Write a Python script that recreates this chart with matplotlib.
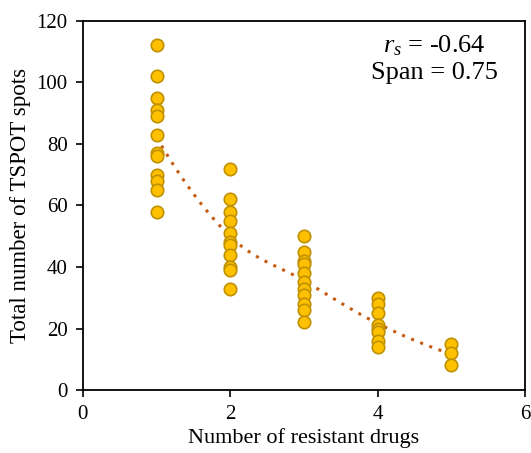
import numpy as np
import matplotlib.pyplot as plt

plt.rcParams['font.family'] = ['Liberation Serif', 'DejaVu Serif']
plt.rcParams['mathtext.fontset'] = 'custom'
plt.rcParams['mathtext.rm'] = 'Liberation Serif'
plt.rcParams['mathtext.it'] = 'Liberation Serif:italic'

# spots per patient, grouped by number of resistant drugs
drugs_1 = [112, 102, 95, 91, 89, 83, 77, 76, 70, 68, 65, 58]
drugs_2 = [72, 62, 58, 55, 51, 48, 47, 44, 40, 39, 33]
drugs_3 = [50, 45, 42, 41, 38, 35, 33, 31, 28, 26, 22]
drugs_4 = [30, 28, 25, 21, 20, 19, 16, 14]
drugs_5 = [15, 12, 8]
groups = [drugs_1, drugs_2, drugs_3, drugs_4, drugs_5]
span = 0.75
rs_text = "$r_s$ = -0.64"

x = np.concatenate([np.full(len(g), i + 1.0) for i, g in enumerate(groups)])
y = np.concatenate([np.array(g, dtype=float) for g in groups])


def loess_fit(x, y, x0, frac):
    # local quadratic fit with tricube weights -> value and slope at x0
    n = len(x)
    q = int(np.floor(frac * n))
    d = np.abs(x - x0)
    dmax = np.sort(d)[q - 1] * 1.0001
    w = np.clip(1 - (d / dmax) ** 3, 0, None) ** 3
    X = np.column_stack([np.ones(n), x - x0, (x - x0) ** 2])
    W = np.sqrt(w)
    beta = np.linalg.lstsq(X * W[:, None], y * W, rcond=None)[0]
    return beta[0], beta[1]


# fit at the vertices (distinct x) then blend with cubic Hermite, like loess "interpolate"
verts = np.unique(x)
fits = [loess_fit(x, y, v, span) for v in verts]
xs, ys = [], []
for i in range(len(verts) - 1):
    x0, x1 = verts[i], verts[i + 1]
    (f0, d0), (f1, d1) = fits[i], fits[i + 1]
    h = x1 - x0
    t = np.linspace(0, 1, 30, endpoint=(i == len(verts) - 2))
    h00 = 2 * t**3 - 3 * t**2 + 1
    h10 = t**3 - 2 * t**2 + t
    h01 = -2 * t**3 + 3 * t**2
    h11 = t**3 - t**2
    xs.append(x0 + t * h)
    ys.append(h00 * f0 + h10 * h * d0 + h01 * f1 + h11 * h * d1)
xs = np.concatenate(xs)
ys = np.concatenate(ys)

fig = plt.figure(figsize=(5.31, 4.53), dpi=100)
ax = fig.add_axes([0.156, 0.139, 0.833, 0.815])

ax.plot(xs, ys, linestyle=(0, (1, 2.2)), color="#C55A11", lw=2.2, zorder=1)
ax.scatter(x, y, s=80, color="#FFC000", edgecolors="#BF9000", linewidths=1.2, zorder=2)

ax.set_xlim(0, 6)
ax.set_ylim(0, 120)
ax.set_xticks([0, 2, 4, 6])
ax.set_yticks(range(0, 121, 20))
ax.tick_params(direction="out", length=5, width=1.2, labelsize=15, pad=6)
for s in ax.spines.values():
    s.set_linewidth(1.3)

ax.set_xlabel("Number of resistant drugs", fontsize=16, labelpad=3)
ax.set_ylabel("Total number of TSPOT spots", fontsize=16.5, labelpad=4)

ax.text(0.794, 0.934, rs_text, transform=ax.transAxes, ha="center", va="center", fontsize=19)
ax.text(0.794, 0.858, f"Span = {span}", transform=ax.transAxes, ha="center", va="center", fontsize=19)

fig.savefig("out.png", dpi=100)
